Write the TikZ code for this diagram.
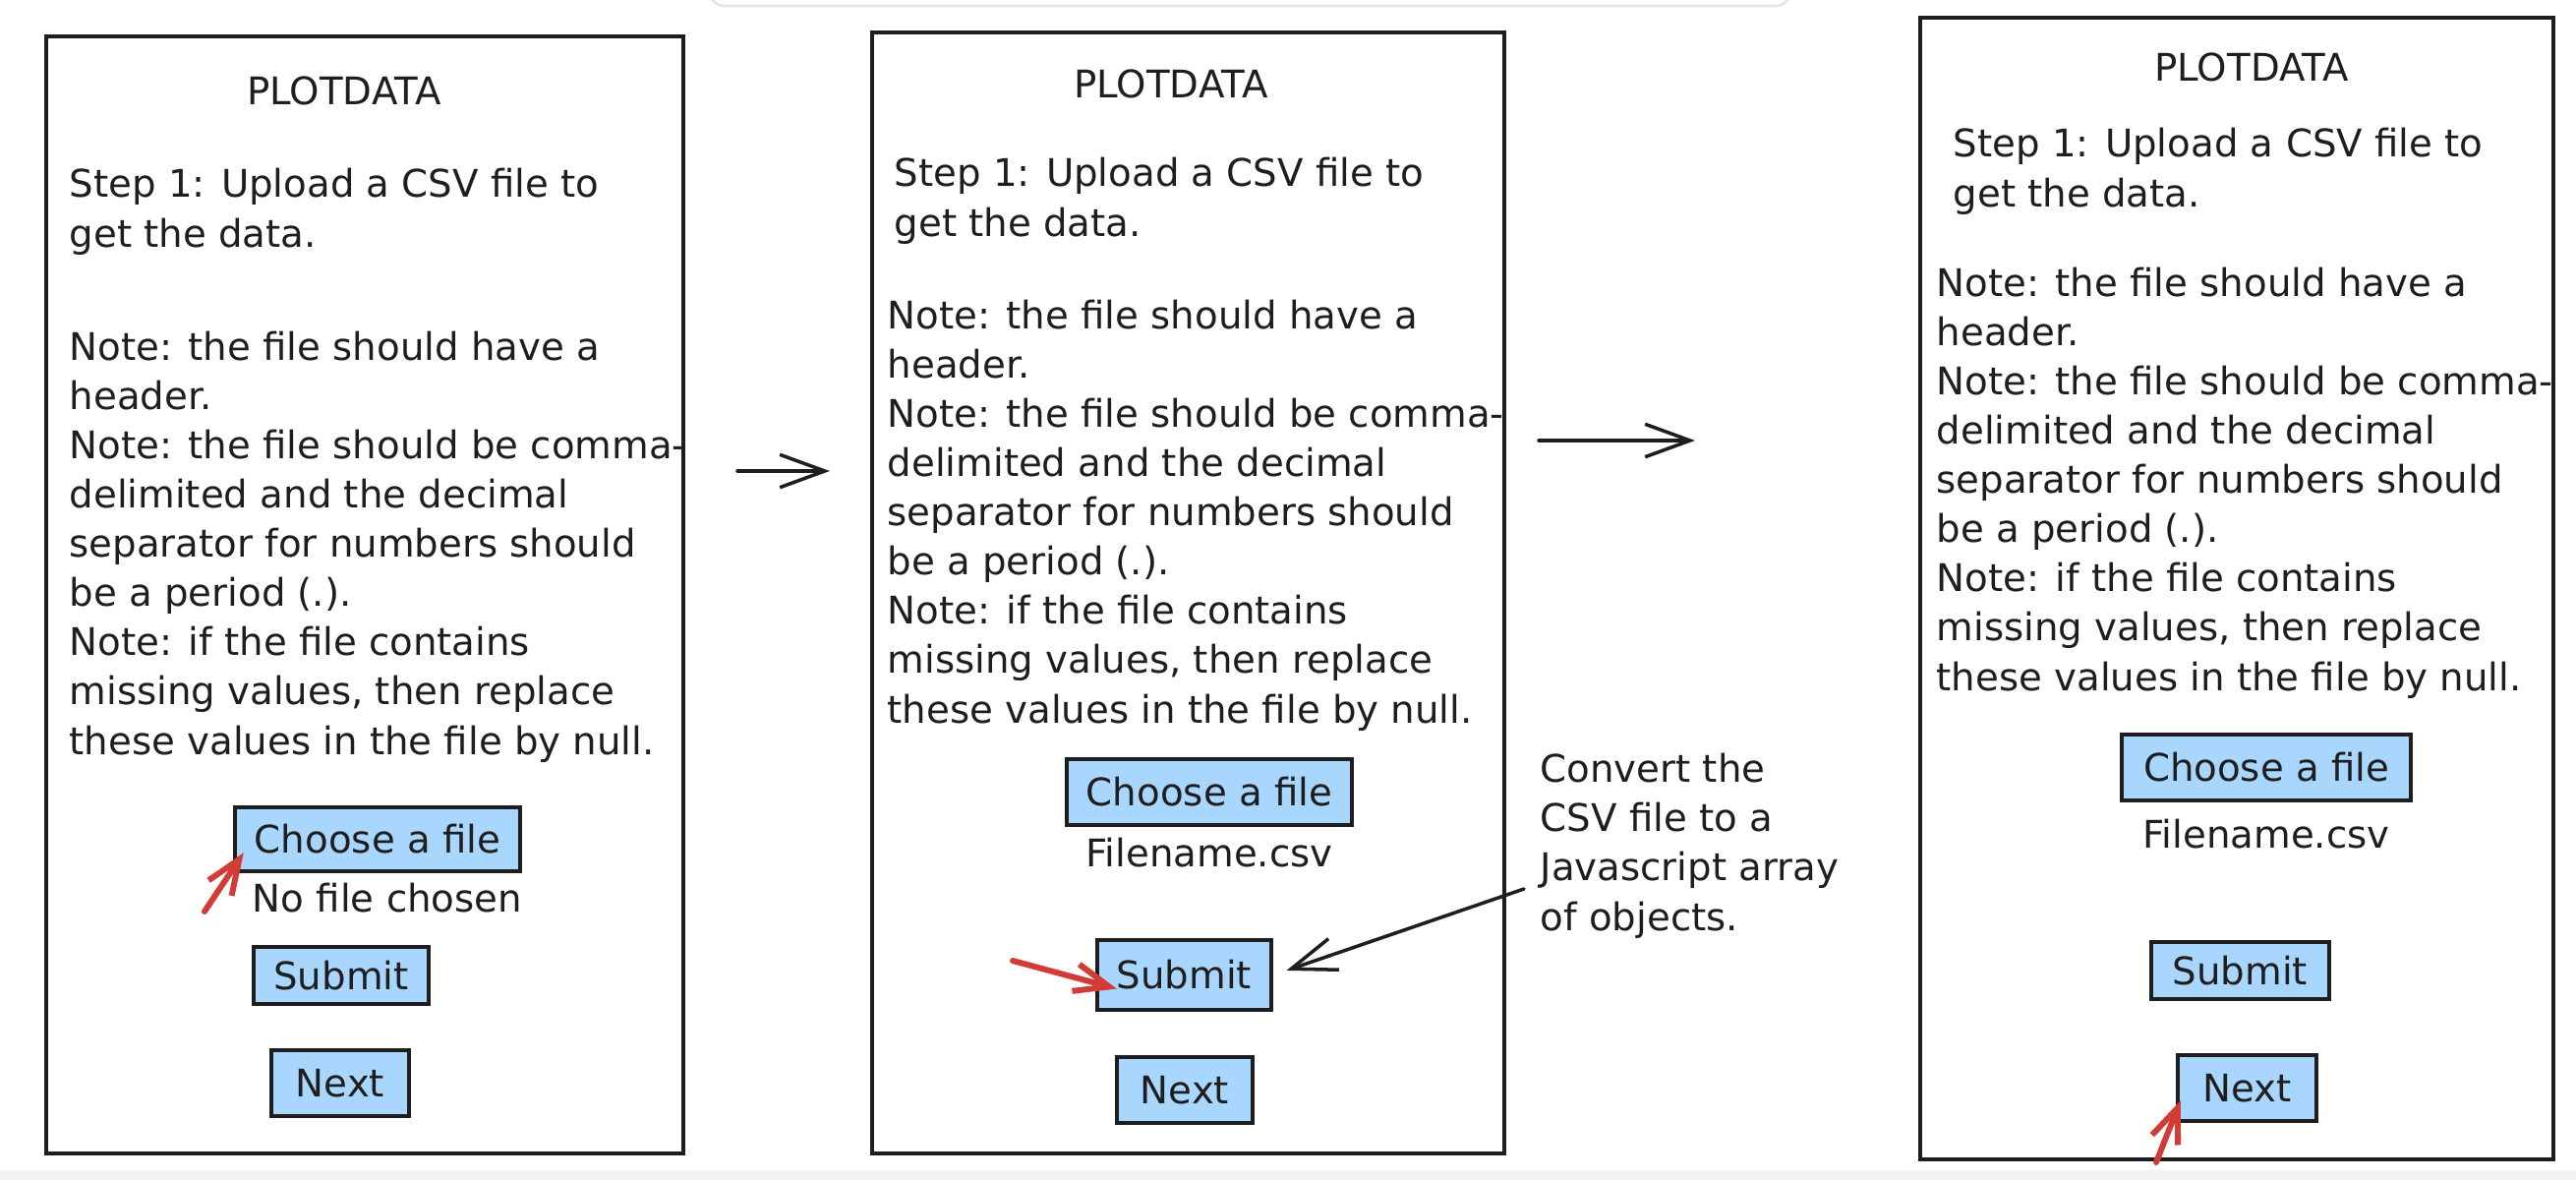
\documentclass[tikz,border=0pt]{standalone}
\usepackage{fontspec}
\setmainfont{DejaVu Sans}
\usepackage{tikz}
\usetikzlibrary{arrows.meta,positioning,calc}
\definecolor{ink}{RGB}{30, 30, 30}
\definecolor{btnblue}{RGB}{168, 214, 252}
\definecolor{hintred}{RGB}{210, 60, 55}
\newcommand{\uifont}{\fontsize{11pt}{14.23pt}\selectfont}
\tikzstyle{panel} = [draw=ink, line width=1.1pt, inner sep=0pt]
\tikzstyle{pagetitle} = [font=\uifont, text=ink, anchor=base, inner sep=0pt]
\tikzstyle{para} = [font=\uifont, text=ink, align=left, anchor=base west, inner sep=0pt]
\tikzstyle{btn} = [draw=ink, line width=1.2pt, fill=btnblue, font=\uifont, text=ink, inner sep=0pt]
\tikzstyle{flow} = [draw=ink, line width=1pt, line cap=round, -{Straight Barb[length=13pt,width=9.5pt]}]
\tikzstyle{hint} = [draw=hintred, line width=1.7pt, line cap=round, -{Straight Barb[length=10pt,width=8pt]}]

\begin{document}
\begin{tikzpicture}[x=0.01cm, y=-0.01cm]
\useasboundingbox (0,0) rectangle (2620,1200);

% window bits =============================
\fill[black!5] (0,1190) rectangle (2620,1200);
\draw[black!10, line width=0.8pt, rounded corners=0.15cm] (722,-30) rectangle (1821,6);

% panels =============================
\node[panel, minimum width=6.48cm, minimum height=11.36cm] (p1) at (371,605) {};
\node[panel, minimum width=6.43cm, minimum height=11.40cm] (p2) at (1208.5,603) {};
\node[panel, minimum width=6.44cm, minimum height=11.61cm] (p3) at (2275,598.5) {};

% panel 1: nothing chosen (text nodes sit on their last baseline)
\node[pagetitle] (t1) at (350,106) {PLOTDATA};
\node[para] (s1) at (70,251) {Step 1: Upload a CSV file to\\get the data.};
\node[para] (n1) at (70,767) {Note: the file should have a\\header.\\Note: the file should be comma-\\delimited and the decimal\\separator for numbers should\\be a period (.).\\Note: if the file contains\\missing values, then replace\\these values in the file by null.};
\node[btn, minimum width=2.90cm, minimum height=0.65cm] (ch1) at (384,853.5) {Choose a file};
\node[para, anchor=north, below=0.09cm of ch1, xshift=0.1cm] (fn1) {No file chosen};
\node[btn, minimum width=1.78cm, minimum height=0.58cm] (sb1) at (347,992) {Submit};
\node[btn, minimum width=1.40cm, minimum height=0.67cm] (nx1) at (346,1101.5) {Next};

% panel 2: file chosen
\node[pagetitle] (t2) at (1191,99) {PLOTDATA};
\node[para] (s2) at (909,240) {Step 1: Upload a CSV file to\\get the data.};
\node[para] (n2) at (902,735) {Note: the file should have a\\header.\\Note: the file should be comma-\\delimited and the decimal\\separator for numbers should\\be a period (.).\\Note: if the file contains\\missing values, then replace\\these values in the file by null.};
\node[btn, minimum width=2.90cm, minimum height=0.67cm] (ch2) at (1230,805.5) {Choose a file};
\node[para, anchor=north, below=0.1cm of ch2] (fn2) {Filename.csv};
\node[btn, minimum width=1.77cm, minimum height=0.71cm] (sb2) at (1204.5,991.5) {Submit};
\node[btn, minimum width=1.38cm, minimum height=0.67cm] (nx2) at (1205,1108.5) {Next};
\node[para] (conv) at (1566,946) {Convert the\\CSV file to a\\Javascript array\\of objects.};

% panel 3: data converted
\node[pagetitle] (t3) at (2290,82) {PLOTDATA};
\node[para] (s3) at (1986,210) {Step 1: Upload a CSV file to\\get the data.};
\node[para] (n3) at (1969,702) {Note: the file should have a\\header.\\Note: the file should be comma-\\delimited and the decimal\\separator for numbers should\\be a period (.).\\Note: if the file contains\\missing values, then replace\\these values in the file by null.};
\node[btn, minimum width=2.94cm, minimum height=0.67cm] (ch3) at (2305,780.5) {Choose a file};
\node[para, anchor=north, below=0.16cm of ch3] (fn3) {Filename.csv};
\node[btn, minimum width=1.81cm, minimum height=0.58cm] (sb3) at (2278.5,987) {Submit};
\node[btn, minimum width=1.41cm, minimum height=0.67cm] (nx3) at (2285.5,1106.5) {Next};

% free ends
\coordinate (a12s) at (750,479);
\coordinate (a12e) at (844,479);
\coordinate (a23s) at (1565,448);
\coordinate (a23e) at (1724,448);
\coordinate (convtail) at (1550,904);
\coordinate (h1) at (208,927);
\coordinate (h2) at (1030,977);
\coordinate (h3) at (2193,1182);

%edges
\path[flow] (a12s) -- (a12e);
\path[flow] (a23s) -- (a23e);
\path[flow, shorten >=4pt] (convtail) -- (sb2.east);

\path[hint] (h1) -- ($(ch1.south west)+(11,-21)$);
\path[hint] (h2) -- ($(sb2.west)+(22,14)$);
\path[hint] (h3) -- ($(nx3.south west)+(5,-23)$);

\end{tikzpicture}
\end{document}
